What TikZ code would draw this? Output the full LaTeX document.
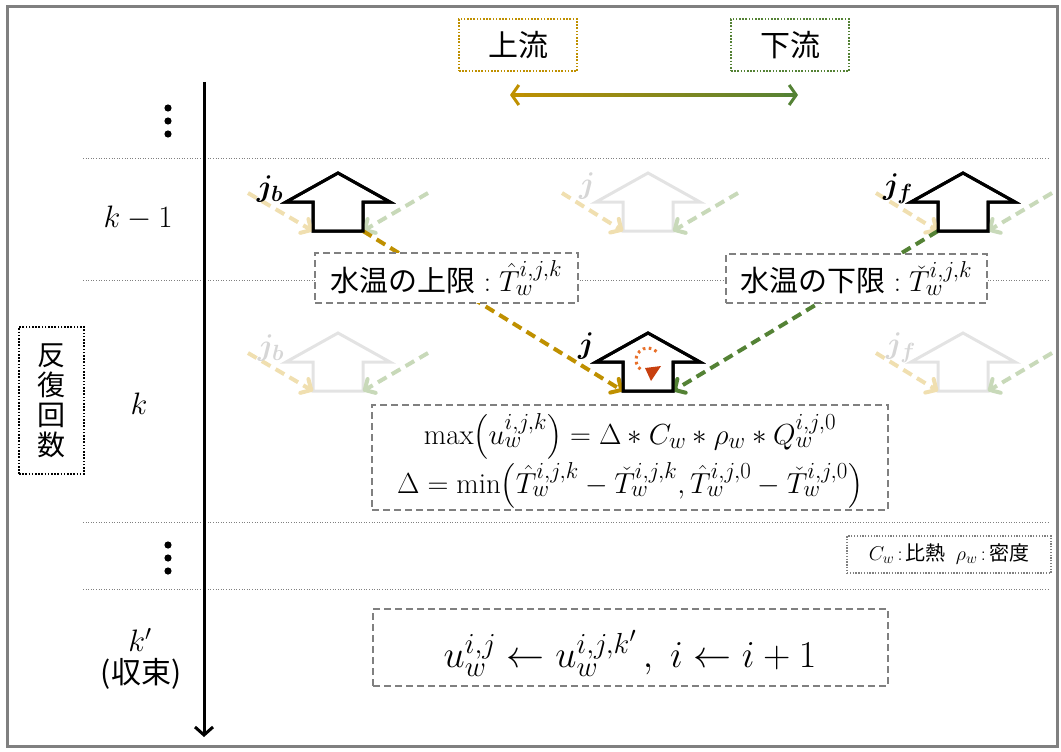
\documentclass[tikz,border=0pt]{standalone}
\usepackage{fix-cm}
\usepackage{amsmath}
\usepackage{bm}
\usepackage{fontspec}
\newfontfamily\jp{Noto Sans CJK JP}
\usetikzlibrary{arrows.meta}
\DeclareMathSizes{29}{29}{23}{18}
\DeclareMathSizes{38}{38}{29}{22}
\DeclareMathSizes{20}{20}{15}{11}
\DeclareMathSizes{30}{30}{22}{17}
\definecolor{gold}{HTML}{BF9000}
\definecolor{grn}{HTML}{548235}
\definecolor{paleg}{HTML}{F0DFB0}
\definecolor{palegr}{HTML}{C8D9B9}
\definecolor{fade}{HTML}{E3E3E3}
\definecolor{fadetxt}{HTML}{D6D6D6}
\definecolor{boxgray}{HTML}{808080}
\definecolor{iconorange}{HTML}{E8702A}
\definecolor{iconred}{HTML}{C8400F}
\newcommand\myfs[2]{\fontsize{#1}{#2}\selectfont}
\tikzset{
  house/.pic={
    \draw[line width=3pt, line join=miter] (0,0) -- (52,29) -- (25,29) -- (25,58) -- (-25,58) -- (-25,29) -- (-52,29) -- cycle;
    \coordinate (-bl) at (-25,58);
    \coordinate (-br) at (25,58);
  },
  dbox/.style={draw=boxgray, line width=2.5pt, dash pattern=on 7pt off 4pt, fill=white, inner sep=0pt},
  rowline/.style={boxgray, line width=0.8pt, dash pattern=on 1pt off 1.6pt},
  flowarrow/.style={line width=4pt, dash pattern=on 10pt off 6pt, -{Straight Barb[length=8pt,width=16pt,round]}},
  jlabel/.style={inner sep=0pt, font=\myfs{30}{34}},
  dotbox/.style={line width=1.6pt, dash pattern=on 1.6pt off 1.6pt, inner sep=0pt},
}
\begin{document}
\begin{tikzpicture}[x=1pt,y=-1pt]
\useasboundingbox (0,0) rectangle (1061,752);
\draw[boxgray, line width=3pt] (7,7) rectangle (1057,746);

% row separators
\foreach \yy in {158,280,522,589}
  \draw[rowline] (83,\yy) -- (1050,\yy);

% iteration axis
\coordinate (axtop) at (204,82);
\coordinate (axbot) at (204,737);
\draw[line width=3pt, -{Straight Barb[length=8pt,width=18pt]}] (axtop) -- (axbot);

% left labels
\foreach \yy in {108,121,134} \fill (168,\yy) circle (3.6pt);
\foreach \yy in {545,558,571} \fill (168,\yy) circle (3.6pt);
\node[font=\myfs{31}{34}] (km1) at (138,218) {$k-1$};
\node[font=\myfs{31}{34}] (kk) at (139,404) {$k$};
\node[font=\myfs{31}{34}] (kp) at (140,640) {$k'$};
\node[font=\myfs{30}{32}\jp] (conv) at (141,674) {(収束)};
\node[dotbox, draw=black, minimum width=65pt, minimum height=147pt, align=center,
      font=\myfs{28}{30}\jp] (iter) at (51.5,400.5) {反\\復\\回\\数};

% upstream / downstream
\node[dotbox, draw=gold, minimum width=118pt, minimum height=52pt, font=\myfs{30}{32}\jp] (up) at (518,45) {上流};
\node[dotbox, draw=grn, minimum width=118pt, minimum height=52pt, font=\myfs{30}{32}\jp] (down) at (790,45) {下流};
\coordinate (ua) at (510,95);
\coordinate (da) at (798,95);
\shade[left color=gold, right color=grn] (512,93.5) rectangle (796,96.5);
\draw[gold, line width=3pt, {Straight Barb[length=7pt,width=20pt]}-] (ua) -- ++(14,0);
\draw[grn, line width=3pt, -{Straight Barb[length=7pt,width=20pt]}] (da) ++(-14,0) -- (da);

% houses
\pic[color=black] (L1) at (338,173) {house};
\pic[color=fade] (M1) at (648,173) {house};
\pic[color=black] (R1) at (963,173) {house};
\pic[color=fade] (L2) at (338,333) {house};
\pic[color=black] (C2) at (648,333) {house};
\pic[color=fade] (R2) at (963,333) {house};

% faded inflow arrows
\coordinate (a1) at (248,193);  \coordinate (b1) at (428,193);
\coordinate (a2) at (562,193);  \coordinate (b2) at (738,193);
\coordinate (a3) at (876,193);  \coordinate (b3) at (1052,193);
\coordinate (a4) at (248,353);  \coordinate (b4) at (428,353);
\coordinate (a6) at (876,353);  \coordinate (b6) at (1052,353);
\draw[paleg, flowarrow] (a1) -- (L1-bl);
\draw[palegr, flowarrow] (b1) -- (L1-br);
\draw[paleg, flowarrow] (a2) -- (M1-bl);
\draw[palegr, flowarrow] (b2) -- (M1-br);
\draw[paleg, flowarrow] (a3) -- (R1-bl);
\draw[palegr, flowarrow] (b3) -- (R1-br);
\draw[paleg, flowarrow] (a4) -- (L2-bl);
\draw[palegr, flowarrow] (b4) -- (L2-br);
\draw[paleg, flowarrow] (a6) -- (R2-bl);
\draw[palegr, flowarrow] (b6) -- (R2-br);

% main flows
\draw[gold, flowarrow] (L1-br) -- (C2-bl);
\draw[grn, flowarrow] (R1-bl) -- (C2-br);

% redraw houses on top
\pic[color=black] at (338,173) {house};
\pic[color=black] at (963,173) {house};
\pic[color=black] at (648,333) {house};

% j labels
\node[jlabel] (jb1) at (270,189) {$\bm{j}_{\bm{b}}$};
\node[jlabel, text=fadetxt] (j1) at (587,186) {$\bm{j}$};
\node[jlabel] (jf1) at (898,189) {$\bm{j}_{\bm{f}}$};
\node[jlabel, text=fadetxt] (jb2) at (271,348) {$\bm{j}_{\bm{b}}$};
\node[jlabel] (j2) at (586,346) {$\bm{j}$};
\node[jlabel, text=fadetxt] (jf2) at (901,348) {$\bm{j}_{\bm{f}}$};

% circulation icon
\draw[iconorange, line width=3pt, dash pattern=on 2.6pt off 3.4pt]
  (656.5,351.5) arc[start angle=-45, end angle=-235, radius=12];
\fill[iconred] (645,368) -- (661,366) -- (651,381) -- cycle;

% limit boxes
\node[dbox, minimum width=263pt, minimum height=50pt, font=\myfs{29}{32}] (upper) at (446.5,278)
  {{\jp 水温の上限}\;:\;$\hat{T}_w^{i,j,k}$};
\node[dbox, minimum width=261pt, minimum height=49pt, font=\myfs{29}{32}] (lower) at (856.5,278.5)
  {{\jp 水温の下限}\;:\;$\check{T}_w^{i,j,k}$};

% formula box
\node[dbox, minimum width=516pt, minimum height=105pt] (form) at (630,457.5) {};
\node[font=\myfs{29}{32}, anchor=base, inner sep=0pt] (f1) at (630,444)
  {$\mathrm{max}\bigl(u_w^{i,j,k}\bigr) = \Delta \ast C_w \ast \rho_w \ast Q_w^{i,j,0}$};
\node[font=\myfs{29}{32}, anchor=base, inner sep=0pt] (f2) at (630,493)
  {$\Delta = \mathrm{min}\bigl(\hat{T}_w^{i,j,k} - \check{T}_w^{i,j,k}, \hat{T}_w^{i,j,0} - \check{T}_w^{i,j,0}\bigr)$};

% legend
\node[draw=boxgray, line width=1.3pt, dash pattern=on 1.3pt off 1.5pt, inner sep=0pt,
      minimum width=204pt, minimum height=37pt, font=\myfs{20}{24}] (legend) at (949,554.5)
  {$C_w$\,:\,{\jp 比熱}\enspace $\rho_w$\,:\,{\jp 密度}};

% result box
\node[dbox, minimum width=515pt, minimum height=77pt] (res) at (630.5,647.5) {};
\node[font=\myfs{38}{44}, anchor=base, inner sep=0pt] (rtxt) at (630,667)
  {$u_w^{i,j} \leftarrow u_w^{i,j,k'}\,,\; i \leftarrow i+1$};
\end{tikzpicture}
\end{document}
